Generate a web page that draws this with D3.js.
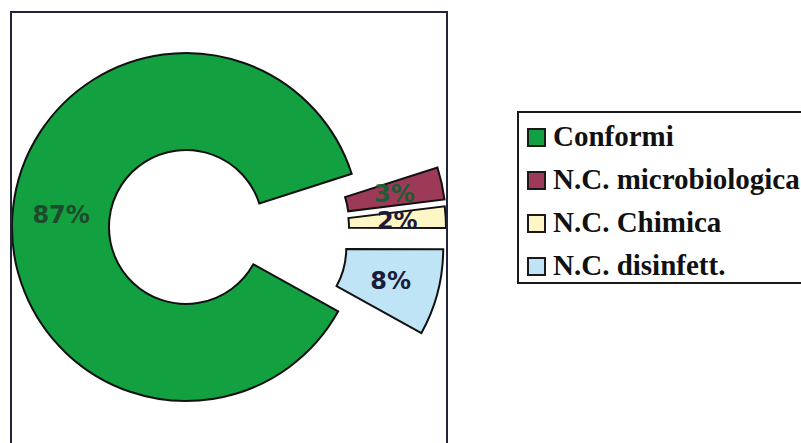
<!DOCTYPE html>
<html>
<head>
<meta charset="utf-8">
<script src="https://cdn.jsdelivr.net/npm/d3@7"></script>
<style>
  body { margin: 0; background: #fff; }
  svg { display: block; }
</style>
</head>
<body>
<svg id="chart" width="801" height="443"></svg>
<script>
// ===== DATA =====
const categories = ["Conformi", "N.C. microbiologica", "N.C. Chimica", "N.C. disinfett."];
const percents = [87, 3, 2, 8];

// ===== STYLE =====
const fills = ["#12a040", "#9c3a58", "#fff6c6", "#bfe4f6"];
const labelColors = ["#1e4a2c", "#1d5c34", "#1a1a3a", "#1a1c3c"];

const svg = d3.select("#chart");

// plot frame
const frame = { x: 11, y: 12, w: 436, h: 460 };
svg.append("defs").append("clipPath").attr("id", "plotClip")
  .append("rect")
  .attr("x", frame.x).attr("y", frame.y)
  .attr("width", frame.w).attr("height", frame.h);

const cx = 186, cy = 227;
const rOuter = 174, rInner = 77;
const explode = 86;
const TAU = 2 * Math.PI;
const deg = Math.PI / 180;

const pie = d3.pie()
  .sort(null)
  .value(d => d)
  .startAngle(119 * deg)
  .endAngle(119 * deg + TAU);

const arc = d3.arc().innerRadius(rInner).outerRadius(rOuter);
const arcs = pie(percents);

const pieG = svg.append("g")
  .attr("clip-path", "url(#plotClip)")
  .append("g")
  .attr("transform", `translate(${cx},${cy})`);

// small slices are pulled out towards the right; the upper ones
// are pulled more horizontally than their bisector
function offset(d, i) {
  if (i === 0) return [0, 0];
  let a = ((d.startAngle + d.endAngle) / 2) % TAU;
  if (a < 90 * deg) a = 0.5 * a + 0.5 * 94 * deg;
  return [explode * Math.sin(a), -explode * Math.cos(a)];
}

const slices = pieG.selectAll("g.slice")
  .data(arcs)
  .join("g")
  .attr("class", "slice")
  .attr("transform", (d, i) => `translate(${offset(d, i)})`);

slices.append("path")
  .attr("d", arc)
  .attr("fill", (d, i) => fills[i])
  .attr("stroke", "#111")
  .attr("stroke-width", 2)
  .attr("stroke-linejoin", "miter");

slices.append("text")
  .attr("transform", d => `translate(${arc.centroid(d)})`)
  .attr("text-anchor", "middle")
  .attr("dy", "0.36em")
  .style("font-family", "'DejaVu Sans', sans-serif")
  .style("font-weight", "bold")
  .style("font-size", "24px")
  .attr("fill", (d, i) => labelColors[i])
  .text((d, i) => percents[i] + "%");

// frame border
svg.append("rect")
  .attr("x", frame.x).attr("y", frame.y)
  .attr("width", frame.w).attr("height", frame.h)
  .attr("fill", "none")
  .attr("stroke", "#22253a")
  .attr("stroke-width", 2);

// ===== LEGEND =====
const legend = svg.append("g").attr("transform", "translate(518,112)");

legend.append("rect")
  .attr("width", 300).attr("height", 171)
  .attr("fill", "#fff")
  .attr("stroke", "#1a1a1a")
  .attr("stroke-width", 2);

const rowY = d3.scalePoint()
  .domain(categories)
  .range([34, 163]);

const rows = legend.selectAll("g.row")
  .data(categories)
  .join("g")
  .attr("class", "row")
  .attr("transform", d => `translate(0,${rowY(d)})`);

rows.append("rect")
  .attr("x", 10).attr("y", -17)
  .attr("width", 17).attr("height", 17)
  .attr("fill", (d, i) => fills[i])
  .attr("stroke", "#1a1a1a")
  .attr("stroke-width", 2);

rows.append("text")
  .attr("x", 35)
  .attr("y", 0)
  .style("font-family", "'Liberation Serif', 'Times New Roman', serif")
  .style("font-weight", "bold")
  .style("font-size", "29px")
  .attr("fill", "#111")
  .text(d => d);
</script>
</body>
</html>
